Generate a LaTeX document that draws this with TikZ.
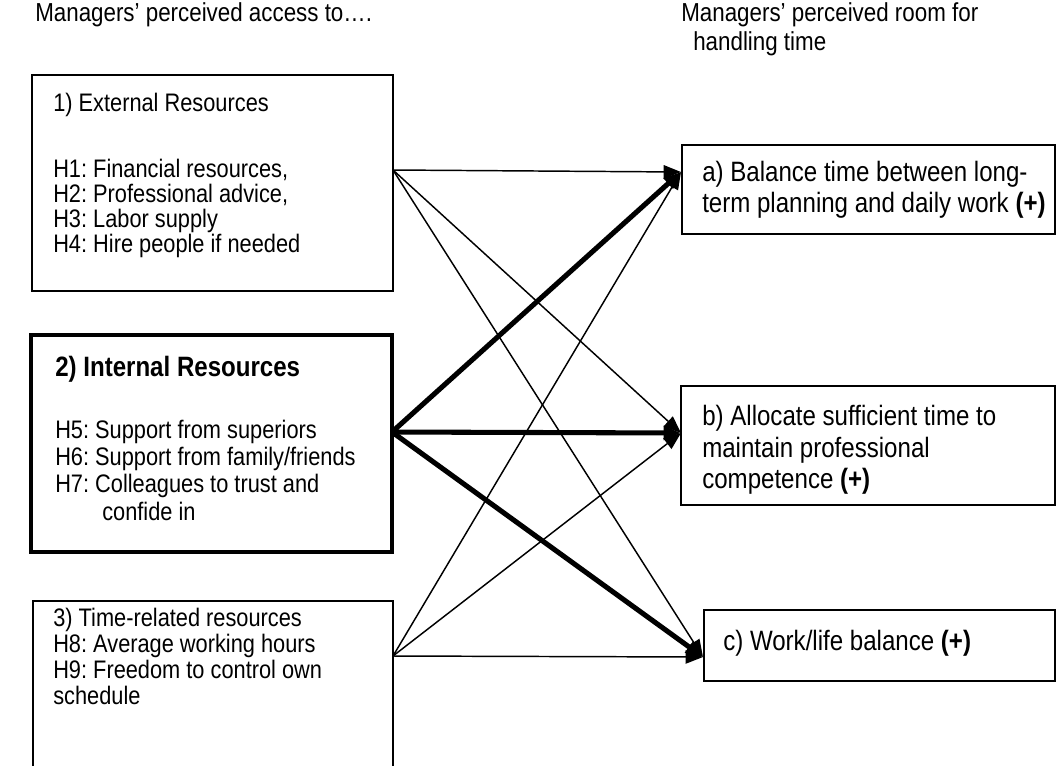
\documentclass[tikz,border=0pt]{standalone}
\usepackage{fontspec}
\setmainfont{Liberation Sans}[FakeStretch=0.86]
\usetikzlibrary{arrows.meta}

\begin{document}
\frenchspacing
\begin{tikzpicture}[x=0.75pt,y=-0.75pt,line join=miter,
  txt/.style={anchor=base west,inner sep=0pt,font=\fontsize{19}{23}\selectfont},
  rtxt/.style={txt,font=\fontsize{21}{25}\selectfont},
  headtxt/.style={txt,font=\fontsize{19.5}{23}\selectfont},
  frame/.style={line width=1.5pt},
  link/.style={-{Triangle[length=13pt,width=10pt]},line width=1.1pt},
  strong/.style={link,line width=3.8pt}]
  \useasboundingbox (0,0) rectangle (1057,765);

  % headings
  \node[headtxt] (head-in) at (35,21) {Managers’ perceived access to….};
  \node[headtxt] (head-out) at (681,21) {Managers’ perceived room for};
  \node[headtxt] (head-out2) at (693,50) {handling time};

  % 1) external resources
  \draw[frame] (32,75) rectangle (393,291);
  \node[txt] (ext-title) at (53,111) {1) External Resources};
  \foreach \h [count=\i] in {{H1: Financial resources,},{H2: Professional advice,},{H3: Labor supply},{H4: Hire people if needed}}
    \node[txt] (ext-\i) at (53,{152+25*\i}) {\h};

  % 2) internal resources
  \draw[line width=3.4pt] (31,335) rectangle (392,552);
  \node[txt,font=\fontsize{21}{25}\selectfont\bfseries] (int-title) at (55,376) {2) Internal Resources};
  \foreach \h [count=\i] in {{H5: Support from superiors},{H6: Support from family/friends},{H7: Colleagues to trust and}}
    \node[txt] (int-\i) at (55,{411+27*\i}) {\h};
  \node[txt] (int-4) at (102,520) {confide in};

  % 3) time-related resources
  \draw[frame] (33,770) -- (33,601) -- (393,601) -- (393,770);
  \foreach \h [count=\i] in {{3) Time-related resources},{H8: Average working hours},{H9: Freedom to control own},{schedule}}
    \node[txt] (time-\i) at (53,{600+26*\i}) {\h};

  % outcomes
  \draw[frame] (682,145) rectangle (1055,234);
  \node[rtxt] (a-1) at (702,181) {a) Balance time between long-};
  \node[rtxt] (a-2) at (702,212) {term planning and daily work \textbf{(+)}};
  \draw[frame] (681,386) rectangle (1055,505);
  \node[rtxt] (b-1) at (702,425) {b) Allocate sufficient time to};
  \node[rtxt] (b-2) at (702,457) {maintain professional};
  \node[rtxt] (b-3) at (702,488) {competence \textbf{(+)}};
  \draw[frame] (704,610) rectangle (1055,681);
  \node[rtxt] (c-1) at (723,650) {c) Work/life balance \textbf{(+)}};

  % links
  \coordinate (src-ext) at (393,170);
  \coordinate (src-int) at (392,432);
  \coordinate (src-time) at (393,656);
  \coordinate (dst-a) at (681,172);
  \coordinate (dst-b) at (681,433);
  \coordinate (dst-c) at (703,657);
  \foreach \s in {ext,time}
    \foreach \t in {a,b,c}
      \draw[link] (src-\s) -- (dst-\t);
  \foreach \t in {a,b,c}
    \draw[strong] (src-int) -- (dst-\t);
\end{tikzpicture}
\end{document}
